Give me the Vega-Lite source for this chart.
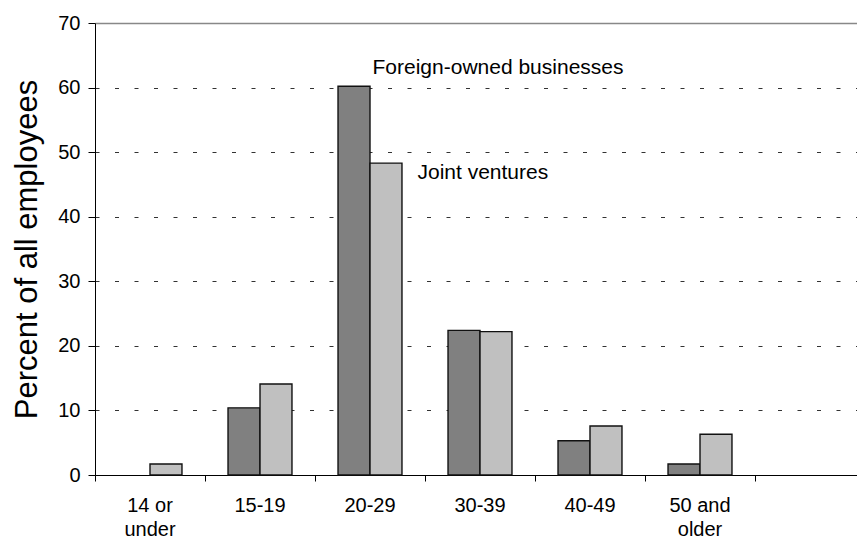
{
  "$schema": "https://vega.github.io/schema/vega-lite/v6.json",
  "width": 762,
  "height": 452,
  "autosize": {"type": "none"},
  "padding": {"left": 95, "top": 23, "right": 0, "bottom": 65},
  "background": "white",
  "config": {"view": {"stroke": null}, "font": "Liberation Sans"},
  "datasets": {
    "bars": [
      {"age": "14 or under", "series": "Joint ventures", "pct": 1.7},
      {"age": "15-19", "series": "Foreign-owned businesses", "pct": 10.4},
      {"age": "15-19", "series": "Joint ventures", "pct": 14.1},
      {"age": "20-29", "series": "Foreign-owned businesses", "pct": 60.2},
      {"age": "20-29", "series": "Joint ventures", "pct": 48.3},
      {"age": "30-39", "series": "Foreign-owned businesses", "pct": 22.4},
      {"age": "30-39", "series": "Joint ventures", "pct": 22.2},
      {"age": "40-49", "series": "Foreign-owned businesses", "pct": 5.3},
      {"age": "40-49", "series": "Joint ventures", "pct": 7.6},
      {"age": "50 and older", "series": "Foreign-owned businesses", "pct": 1.7},
      {"age": "50 and older", "series": "Joint ventures", "pct": 6.3}
    ],
    "notes": [
      {"age": "20-29", "series": "Foreign-owned businesses", "pos": 63.0, "label": "Foreign-owned businesses"},
      {"age": "20-29", "series": "Joint ventures", "pos": 46.8, "label": "Joint ventures"}
    ]
  },
  "encoding": {
    "x": {
      "field": "age",
      "type": "nominal",
      "sort": null,
      "scale": {
        "domain": ["14 or under", "15-19", "20-29", "30-39", "40-49", "50 and older", " "],
        "range": [0, 770],
        "paddingInner": 0,
        "paddingOuter": 0
      },
      "axis": {
        "title": null,
        "labelAngle": 0,
        "bandPosition": 0,
        "domainColor": "#000000",
        "tickColor": "#000000",
        "tickSize": 6,
        "labelFontSize": 20,
        "labelColor": "#000000",
        "labelPadding": 14,
        "labelLineHeight": 24,
        "labelBaseline": "top",
        "labelExpr": "datum.label == '14 or under' ? ['14 or', 'under'] : datum.label == '50 and older' ? ['50 and', 'older'] : datum.label"
      }
    },
    "y": {
      "field": "pct",
      "type": "quantitative",
      "scale": {"domain": [0, 70], "nice": false, "zero": true},
      "axis": {
        "title": "Percent of all employees",
        "titleFontSize": 31,
        "titleFontWeight": "normal",
        "titleColor": "#000000",
        "titlePadding": 14,
        "values": [0, 10, 20, 30, 40, 50, 60, 70],
        "domainColor": "#000000",
        "tickColor": "#000000",
        "tickSize": 7,
        "labelFontSize": 20,
        "labelColor": "#000000",
        "labelPadding": 8,
        "grid": true,
        "gridColor": {"condition": {"test": "datum.value === 70", "value": "#888888"}, "value": "#333333"},
        "gridDash": {"condition": {"test": "datum.value === 70", "value": []}, "value": [4, 15.5]},
        "gridWidth": {"condition": {"test": "datum.value === 70", "value": 1.6}, "value": 1}
      }
    }
  },
  "layer": [
    {
      "data": {"name": "bars"},
      "mark": {"type": "bar", "stroke": "#111111", "strokeWidth": 1.4},
      "encoding": {
        "xOffset": {
          "field": "series",
          "type": "nominal",
          "scale": {"domain": ["Foreign-owned businesses", "Joint ventures"], "paddingOuter": 0.72, "paddingInner": 0}
        },
        "color": {
          "field": "series",
          "type": "nominal",
          "scale": {"domain": ["Foreign-owned businesses", "Joint ventures"], "range": ["#808080", "#c0c0c0"]},
          "legend": null
        }
      }
    },
    {
      "data": {"name": "notes"},
      "transform": [{"filter": "datum.series == 'Foreign-owned businesses'"}],
      "mark": {"type": "text", "align": "left", "baseline": "middle", "dx": 18.5, "fontSize": 21, "color": "#000000"},
      "encoding": {
        "xOffset": {
          "field": "series",
          "type": "nominal",
          "scale": {"domain": ["Foreign-owned businesses", "Joint ventures"], "paddingOuter": 0.72, "paddingInner": 0}
        },
        "y": {"field": "pos", "type": "quantitative"},
        "text": {"field": "label"}
      }
    },
    {
      "data": {"name": "notes"},
      "transform": [{"filter": "datum.series == 'Joint ventures'"}],
      "mark": {"type": "text", "align": "left", "baseline": "middle", "dx": 31.5, "fontSize": 21, "color": "#000000"},
      "encoding": {
        "xOffset": {
          "field": "series",
          "type": "nominal",
          "scale": {"domain": ["Foreign-owned businesses", "Joint ventures"], "paddingOuter": 0.72, "paddingInner": 0}
        },
        "y": {"field": "pos", "type": "quantitative"},
        "text": {"field": "label"}
      }
    }
  ]
}
